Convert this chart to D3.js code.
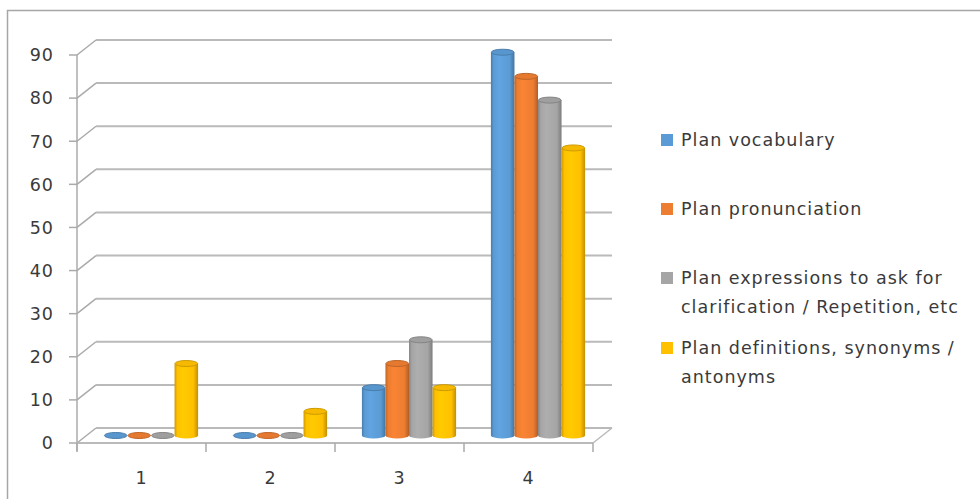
<!DOCTYPE html>
<html>
<head>
<meta charset="utf-8">
<script src="https://cdn.jsdelivr.net/npm/d3@7"></script>
<style>
  body { margin: 0; background: #fff; }
  svg text { font-family: "DejaVu Sans", Verdana, sans-serif; fill: #3a3a3a; letter-spacing: 1px; }
</style>
</head>
<body>
<svg id="chart"></svg>
<script>
// data
var categories = ["1", "2", "3", "4"];
var seriesNames = ["Plan vocabulary", "Plan pronunciation",
    "Plan expressions to ask for clarification / Repetition, etc",
    "Plan definitions, synonyms / antonyms"];
var vocabulary = [0, 0, 11.1, 88.9];
var pronunciation = [0, 0, 16.7, 83.3];
var expressions = [0, 0, 22.2, 77.8];
var definitions = [16.7, 5.6, 11.1, 66.7];
var yTicks = [0, 10, 20, 30, 40, 50, 60, 70, 80, 90];
var legendLines = [["Plan vocabulary"], ["Plan pronunciation"],
    ["Plan expressions to ask for", "clarification / Repetition, etc"],
    ["Plan definitions, synonyms /", "antonyms"]];

var colors = ["#5B9BD5", "#ED7D31", "#A5A5A5", "#FFC000"];
var allSeries = [vocabulary, pronunciation, expressions, definitions];

var width = 980, height = 499;
var dx = 19, dy = -15;   // depth offset of the back wall
var svg = d3.select("#chart").attr("width", width).attr("height", height);

// outer frame
svg.append("rect")
    .attr("x", 7.5).attr("y", 10.5)
    .attr("width", width).attr("height", height)
    .attr("fill", "none").attr("stroke", "#a6a6a6").attr("stroke-width", 1.5);

var xScale = d3.scaleBand().domain(categories).range([77, 593]);
var yScale = d3.scaleLinear().domain([0, 90]).range([443, 55]);
var groupW = xScale.bandwidth() * 0.73;
var inner = d3.scaleBand().domain(d3.range(4))
    .range([(xScale.bandwidth() - groupW) / 2, (xScale.bandwidth() + groupW) / 2]);

var grid = svg.append("g");
var x0 = xScale.range()[0], x1 = xScale.range()[1];

// back wall gridlines with their diagonal to the front axis
yTicks.forEach(function (t) {
    var y = yScale(t);
    grid.append("line")
        .attr("x1", x0 + dx).attr("x2", x1 + dx)
        .attr("y1", y + dy).attr("y2", y + dy)
        .attr("stroke", "#bababa").attr("stroke-width", 2);
    grid.append("line")
        .attr("x1", x0).attr("y1", y).attr("x2", x0 + dx).attr("y2", y + dy)
        .attr("stroke", "#aaaaaa").attr("stroke-width", 1.5);
    grid.append("line")
        .attr("x1", x0 - 8).attr("x2", x0).attr("y1", y).attr("y2", y)
        .attr("stroke", "#aaaaaa").attr("stroke-width", 1.5);
    svg.append("text")
        .attr("x", 54).attr("y", y).attr("dy", "0.36em")
        .attr("text-anchor", "end").style("font-size", "17.5px")
        .text(t);
});

// floor: front edge, right edge, vertical axis
grid.append("line")
    .attr("x1", x0).attr("x2", x1).attr("y1", yScale(0)).attr("y2", yScale(0))
    .attr("stroke", "#bababa").attr("stroke-width", 2);
grid.append("line")
    .attr("x1", x1).attr("y1", yScale(0)).attr("x2", x1 + dx).attr("y2", yScale(0) + dy)
    .attr("stroke", "#bababa").attr("stroke-width", 1.5);
grid.append("line")
    .attr("x1", x0).attr("x2", x0).attr("y1", yScale(90)).attr("y2", yScale(0) + 8)
    .attr("stroke", "#aaaaaa").attr("stroke-width", 1.5);

// category ticks and labels
var bounds = categories.map(function (c) { return xScale(c); }).concat([x1]);
bounds.forEach(function (b) {
    grid.append("line")
        .attr("x1", b).attr("x2", b).attr("y1", yScale(0)).attr("y2", yScale(0) + 9)
        .attr("stroke", "#aaaaaa").attr("stroke-width", 1.5);
});
svg.selectAll(".xlab")
    .data(categories)
    .enter().append("text")
    .attr("class", "xlab")
    .attr("x", function (d) { return xScale(d) + xScale.bandwidth() / 2; })
    .attr("y", 478).attr("dy", "0.36em")
    .attr("text-anchor", "middle").style("font-size", "17.5px")
    .text(function (d) { return d; });

// gradients for the cylinders
var defs = svg.append("defs");
colors.forEach(function (c, i) {
    var g = defs.append("linearGradient").attr("id", "grad" + i)
        .attr("x1", "0%").attr("x2", "100%").attr("y1", "0%").attr("y2", "0%");
    g.append("stop").attr("offset", "0%").attr("stop-color", d3.color(c).darker(0.6));
    g.append("stop").attr("offset", "12%").attr("stop-color", c);
    g.append("stop").attr("offset", "35%").attr("stop-color", d3.color(c).brighter(0.15));
    g.append("stop").attr("offset", "80%").attr("stop-color", c);
    g.append("stop").attr("offset", "100%").attr("stop-color", d3.color(c).darker(0.8));
});

// bars as cylinders, middle of the depth
var bw = inner.bandwidth();
var ry = 3;
var bars = [];
categories.forEach(function (cat, ci) {
    allSeries.forEach(function (vals, si) {
        bars.push({cat: cat, s: si, v: vals[ci]});
    });
});
var barG = svg.selectAll(".bar")
    .data(bars)
    .enter().append("g").attr("class", "bar")
    .attr("transform", function (d) {
        return "translate(" + (xScale(d.cat) + inner(d.s) + dx / 2) + "," + (dy / 2) + ")";
    });
barG.filter(function (d) { return d.v > 0; })
    .append("rect")
    .attr("x", 0).attr("width", bw)
    .attr("y", function (d) { return yScale(d.v); })
    .attr("height", function (d) { return yScale(0) - yScale(d.v); })
    .attr("fill", function (d) { return "url(#grad" + d.s + ")"; });
barG.filter(function (d) { return d.v > 0; })
    .append("ellipse")
    .attr("cx", bw / 2).attr("cy", yScale(0)).attr("rx", bw / 2).attr("ry", ry)
    .attr("fill", function (d) { return "url(#grad" + d.s + ")"; });
barG.append("ellipse")
    .attr("cx", bw / 2)
    .attr("cy", function (d) { return yScale(d.v); })
    .attr("rx", bw / 2 - 0.5).attr("ry", ry)
    .attr("fill", function (d) { return d3.color(colors[d.s]).darker(0.1); })
    .attr("stroke", function (d) { return d3.color(colors[d.s]).darker(0.6); })
    .attr("stroke-width", 1);

// legend
var legendY = [140, 209, 278, 348];
var legend = svg.selectAll(".legend")
    .data(seriesNames)
    .enter().append("g").attr("class", "legend")
    .attr("transform", function (d, i) { return "translate(661," + legendY[i] + ")"; });
legend.append("rect")
    .attr("x", 0).attr("y", -6).attr("width", 12).attr("height", 12)
    .attr("fill", function (d, i) { return colors[i]; });
legend.append("text")
    .attr("x", 20).attr("y", 0)
    .style("font-size", "17.5px")
    .selectAll("tspan")
    .data(function (d, i) { return legendLines[i]; })
    .enter().append("tspan")
    .attr("x", 20)
    .attr("dy", function (d, j) { return j === 0 ? "0.36em" : "29px"; })
    .text(function (d) { return d; });
</script>
</body>
</html>
